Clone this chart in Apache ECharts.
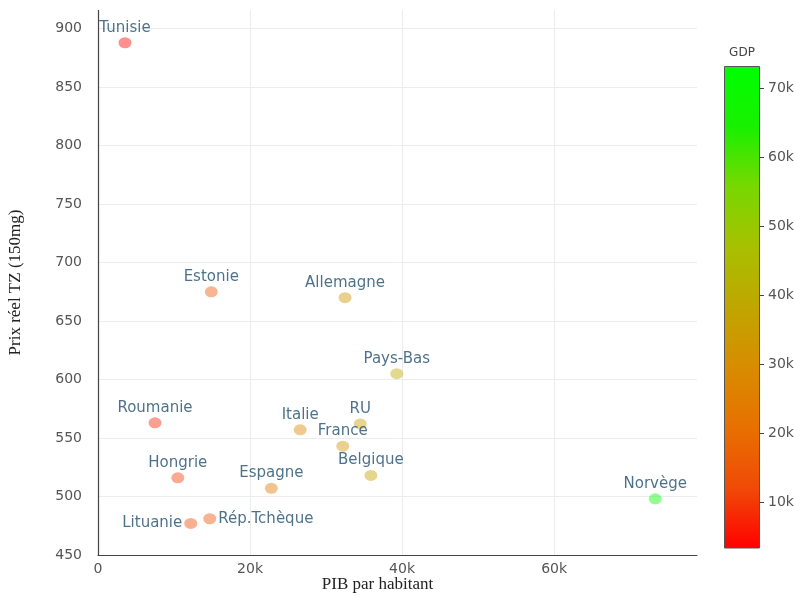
<!DOCTYPE html>
<html>
<head>
<meta charset="utf-8">
<script src="https://cdn.jsdelivr.net/npm/echarts@6/dist/echarts.min.js"></script>
<style>
  html, body { margin: 0; padding: 0; background: #fff; }
  #chart { width: 795px; height: 596px; }
</style>
</head>
<body>
<div id="chart"></div>
<script>
// data
const countries = ['Tunisie', 'Estonie', 'Allemagne', 'Pays-Bas', 'Roumanie', 'Italie', 'RU', 'France',
  'Hongrie', 'Belgique', 'Espagne', 'Norvège', 'Rép.Tchèque', 'Lituanie'];
const gdp = [3550, 14900, 32500, 39300, 7500, 26600, 34500, 32200, 10500, 35900, 22800, 73300, 14700, 12200];
const price = [888, 675, 670, 605, 563, 557, 562, 543, 516, 518, 507, 498, 481, 477];
const labelPos = ['top', 'top', 'top', 'top', 'top', 'top', 'top', 'top', 'top', 'top', 'top', 'top', 'right', 'left'];
const gdpTicks = [10000, 20000, 30000, 40000, 50000, 60000, 70000];
const gdpMin = 3330;
const gdpMax = 73200;

// colour scale red -> orange -> yellow -> green
const scaleColors = ['#ff0000', '#f04a08', '#e87000', '#d88c00', '#c0a600', '#a8c000', '#78d800', '#18f000', '#00ff00'];

const fmtK = (v) => (v === 0 ? '0' : v / 1000 + 'k');

const points = countries.map((c, i) => ({
  value: [gdp[i], price[i], gdp[i]],
  name: c,
  label: { position: labelPos[i] },
}));

const tickFont = { fontFamily: 'DejaVu Sans', fontSize: 14, color: '#555' };
const titleFont = { fontFamily: 'Liberation Serif', fontSize: 17, color: '#222' };

const myChart = echarts.init(document.getElementById('chart'));
myChart.setOption({
  backgroundColor: '#fff',
  animation: false,
  grid: [
    { left: 98, right: 98, top: 10, bottom: 41, outerBoundsMode: 'none' },
    { left: 724, top: 66, width: 36, height: 482, outerBoundsMode: 'none' },
  ],
  xAxis: [
    {
      type: 'value',
      gridIndex: 0,
      min: 0,
      max: 78800,
      interval: 20000,
      name: 'PIB par habitant',
      nameLocation: 'middle',
      nameGap: 21,
      nameMoveOverlap: false,
      nameTextStyle: Object.assign({ padding: [0, 40, 0, 0] }, titleFont),
      axisLine: { show: true, lineStyle: { color: '#444', width: 1.2 } },
      axisTick: { show: false },
      axisLabel: Object.assign({ formatter: fmtK, showMaxLabel: false, margin: 7 }, tickFont),
      splitLine: { show: true, showMaxLine: false, lineStyle: { color: '#ececec' } },
    },
    {
      type: 'category',
      gridIndex: 1,
      data: ['GDP'],
      show: false,
    },
  ],
  yAxis: [
    {
      type: 'value',
      gridIndex: 0,
      min: 450,
      max: 916,
      interval: 50,
      name: 'Prix réel TZ (150mg)',
      nameLocation: 'middle',
      nameGap: 74,
      nameMoveOverlap: false,
      nameRotate: 90,
      nameTextStyle: titleFont,
      axisLine: { show: false },
      axisTick: { show: false },
      axisLabel: Object.assign({ showMaxLabel: false, margin: 16 }, tickFont),
      splitLine: { show: true, showMaxLine: false, lineStyle: { color: '#ececec' } },
    },
    {
      type: 'value',
      gridIndex: 1,
      min: gdpMin,
      max: gdpMax,
      position: 'right',
      name: 'GDP',
      nameLocation: 'end',
      nameGap: 7,
      nameTextStyle: { fontFamily: 'DejaVu Sans', fontSize: 12, color: '#444', align: 'center', padding: [0, 0, 0, -36] },
      axisLine: { show: false },
      axisTick: { show: true, length: 4, customValues: gdpTicks, lineStyle: { color: '#444' } },
      axisLabel: Object.assign({ customValues: gdpTicks, formatter: fmtK, margin: 8 }, tickFont),
      splitLine: { show: false },
    },
  ],
  visualMap: {
    show: false,
    seriesIndex: 0,
    dimension: 2,
    min: gdpMin,
    max: gdpMax,
    inRange: { color: scaleColors, colorAlpha: 0.55 },
  },
  series: [
    {
      type: 'scatter',
      xAxisIndex: 0,
      yAxisIndex: 0,
      data: points,
      symbolSize: [13, 11],
      label: {
        show: true,
        formatter: '{b}',
        distance: 2,
        fontFamily: 'DejaVu Sans',
        fontSize: 15,
        color: '#1f4e6e',
      },
      // the line at x = 0
      markLine: {
        silent: true,
        symbol: 'none',
        label: { show: false },
        lineStyle: { color: '#444', width: 1.2, type: 'solid' },
        data: [{ xAxis: 0 }],
      },
      z: 3,
    },
    {
      type: 'bar',
      xAxisIndex: 1,
      yAxisIndex: 1,
      data: [gdpMax],
      barWidth: '100%',
      silent: true,
      itemStyle: {
        color: new echarts.graphic.LinearGradient(0, 1, 0, 0,
          scaleColors.map((c, i) => ({ offset: i / (scaleColors.length - 1), color: c }))),
        borderColor: '#555',
        borderWidth: 1,
      },
    },
  ],
});
</script>
</body>
</html>
